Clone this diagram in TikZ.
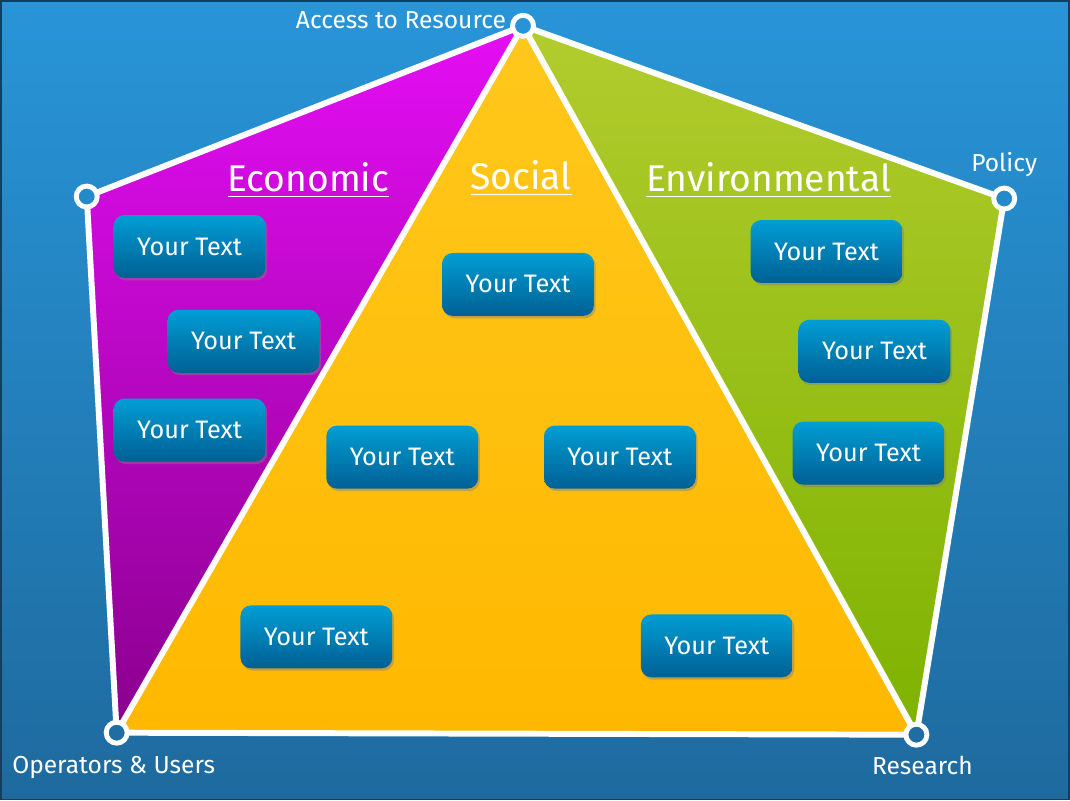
\documentclass[tikz,border=0pt]{standalone}
\usepackage{fontspec}
\setmainfont{Fira Sans}
\usetikzlibrary{shadows,positioning}
\definecolor{bgtop}{RGB}{40,149,216}
\definecolor{bgbot}{RGB}{30,106,158}
\definecolor{ecotop}{RGB}{228,14,244}
\definecolor{ecobot}{RGB}{138,0,142}
\definecolor{soctop}{RGB}{255,200,28}
\definecolor{socbot}{RGB}{255,184,0}
\definecolor{envtop}{RGB}{178,204,46}
\definecolor{envbot}{RGB}{126,178,0}
\definecolor{boxtop}{RGB}{0,158,212}
\definecolor{boxbot}{RGB}{0,96,148}

\begin{document}
\begin{tikzpicture}[
  txtbox/.style={rounded corners=3pt, top color=boxtop, bottom color=boxbot,
    minimum width=1.52cm, minimum height=0.63cm, text=white,
    font=\fontsize{7.2}{8}\selectfont,
    drop shadow={opacity=0.45, shadow xshift=0.5pt, shadow yshift=-0.7pt}},
  title/.style={text=white, font=\fontsize{10.6}{12}\selectfont, inner sep=1pt},
  lbl/.style={text=white, font=\fontsize{7}{8}\selectfont, inner sep=1pt},
  edge/.style={draw=white, line width=1.7pt, line join=round},
  vtx/.style={circle, draw=white, line width=1.4pt, minimum size=0.21cm, inner sep=0pt},
]

% ============ background ============
\fill[top color=bgtop, bottom color=bgbot] (0,0) rectangle (10.7,8);
\draw[bgbot!60!black, line width=0.5pt] (0,0) rectangle (10.7,8);
\useasboundingbox (0,0) rectangle (10.7,8);

% ============ corners of the pentagon ============
\coordinate (acc) at (5.23,7.75);
\coordinate (pol) at (10.05,6.02);
\coordinate (res) at (9.17,0.65);
\coordinate (ops) at (1.16,0.67);
\coordinate (lft) at (0.86,6.04);

% ============ coloured regions ============
\fill[top color=ecotop, bottom color=ecobot] (lft) -- (acc) -- (ops) -- cycle;
\fill[top color=soctop, bottom color=socbot] (acc) -- (res) -- (ops) -- cycle;
\fill[top color=envtop, bottom color=envbot] (acc) -- (pol) -- (res) -- cycle;

% ============ white edges ============
\draw[edge] (acc) -- (pol) -- (res) -- (ops) -- (lft) -- cycle;
\draw[edge] (acc) -- (ops);
\draw[edge] (acc) -- (res);

% ============ corner rings ============
\node[vtx, fill=bgtop!97!bgbot] (accdot) at (acc) {};
\node[vtx, fill=bgtop!75!bgbot] (poldot) at (pol) {};
\node[vtx, fill=bgtop!8!bgbot] (resdot) at (res) {};
\node[vtx, fill=bgtop!8!bgbot] (opsdot) at (ops) {};
\node[vtx, fill=bgtop!75!bgbot] (lftdot) at (lft) {};

% ============ corner labels ============
\node[lbl, left=0.0cm of accdot, yshift=0.06cm] (acclbl) {Access to Resource};
\node[lbl, above=0.05cm of poldot] (pollbl) {Policy};
\node[lbl, below=0.06cm of opsdot, xshift=-0.03cm] (opslbl) {Operators \& Users};
\node[lbl, below=0.04cm of resdot, xshift=0.06cm] (reslbl) {Research};

% ============ titles ============
\node[title] (eco) at (3.08,6.20) {\underline{Economic}};
\node[title] (soc) at (5.21,6.22) {\underline{Social}};
\node[title] (env) at (7.69,6.20) {\underline{Environmental}};

% ============ Economic boxes ============
\node[txtbox] (eco1) at (1.89,5.54) {Your Text};
\node[txtbox] (eco2) at (2.43,4.59) {Your Text};
\node[txtbox] (eco3) at (1.89,3.70) {Your Text};

% ============ Social boxes ============
\node[txtbox] (soc1) at (5.18,5.16) {Your Text};
\node[txtbox] (soc2) at (4.02,3.43) {Your Text};
\node[txtbox] (soc3) at (6.20,3.43) {Your Text};
\node[txtbox] (soc4) at (3.16,1.63) {Your Text};
\node[txtbox] (soc5) at (7.17,1.54) {Your Text};

% ============ Environmental boxes ============
\node[txtbox] (env1) at (8.27,5.49) {Your Text};
\node[txtbox] (env2) at (8.75,4.49) {Your Text};
\node[txtbox] (env3) at (8.69,3.47) {Your Text};

\end{tikzpicture}
\end{document}
